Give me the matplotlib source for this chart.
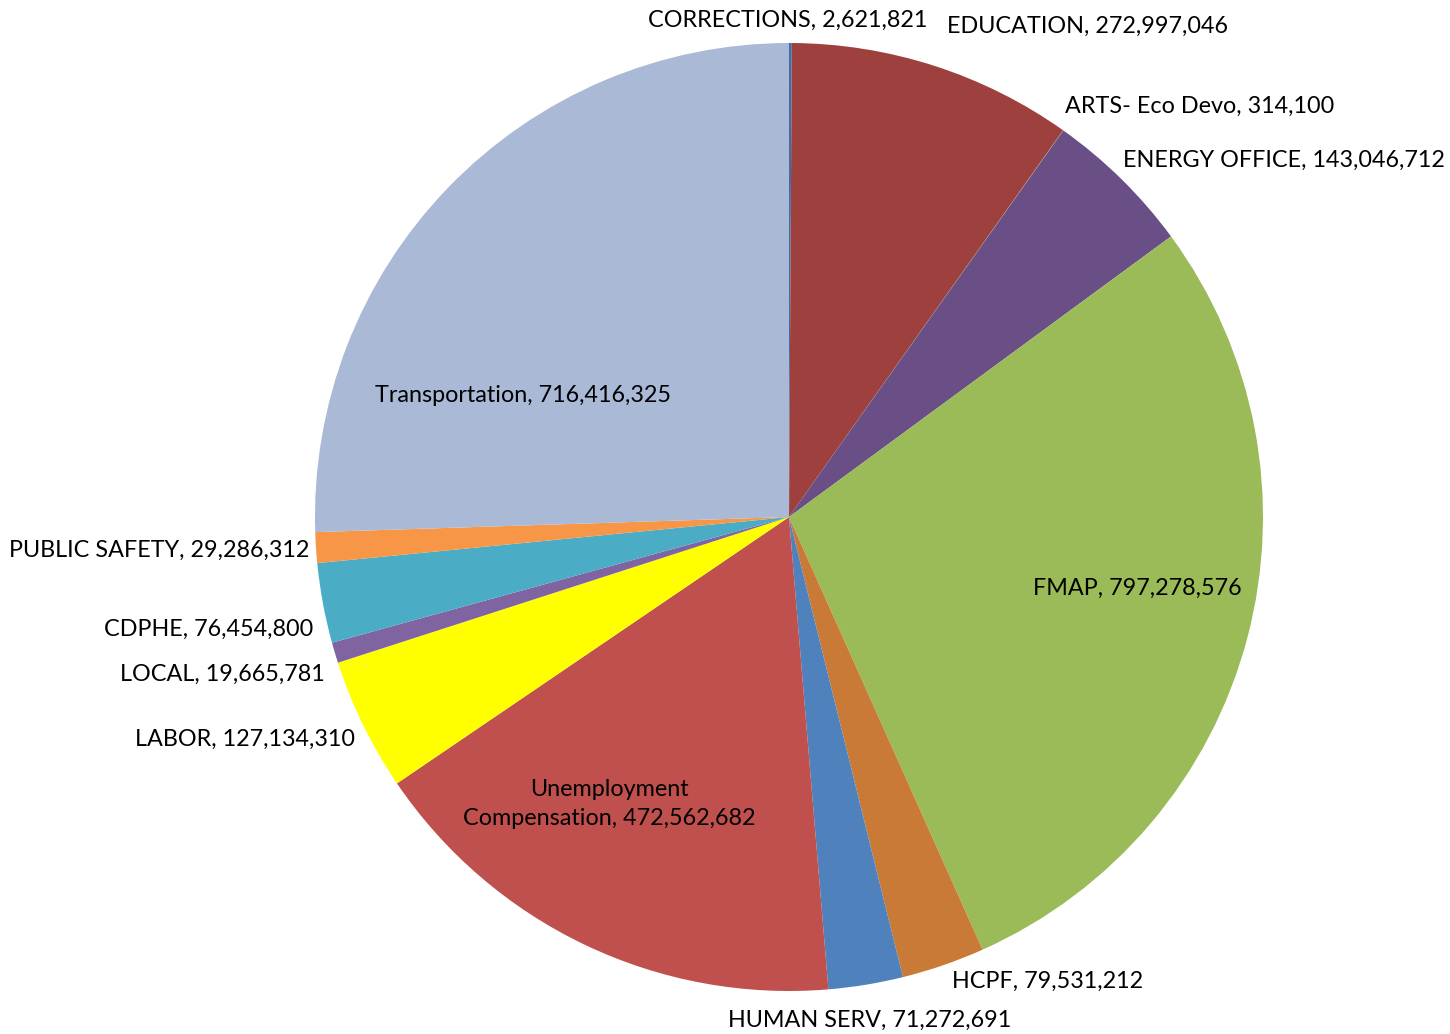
import matplotlib
matplotlib.use('Agg')
import matplotlib.pyplot as plt

# slices, clockwise from 12 o'clock
names = ['CORRECTIONS', 'EDUCATION', 'ARTS- Eco Devo', 'ENERGY OFFICE', 'FMAP', 'HCPF',
         'HUMAN SERV', 'Unemployment\nCompensation', 'LABOR', 'LOCAL', 'CDPHE',
         'PUBLIC SAFETY', 'Transportation']
amounts = [2621821, 272997046, 314100, 143046712, 797278576, 79531212,
           71272691, 472562682, 127134310, 19665781, 76454800,
           29286312, 716416325]
colors = ['#3E6DA8', '#9E413E', '#7E9C48', '#6A4F86', '#9BBB59', '#C97A37',
          '#4F81BD', '#C0504D', '#FFFF00', '#8064A2', '#4BACC6',
          '#F79646', '#AAB9D6']

# label centres in pixel coords (x from left, y from top)
label_xy = [(788, 20), (1088, 26), (1200, 106), (1284, 160), (1137, 588), (1048, 981),
            (870, 1020), (609, 804), (245, 739), (222, 674), (209, 629),
            (159, 550), (523, 396)]

W, H = 1450, 1034
fig = plt.figure(figsize=(W / 100, H / 100), dpi=100)
ax = fig.add_axes([0, 0, 1, 1])

ax.pie(amounts, colors=colors, startangle=90, counterclock=False,
       center=(789, H - 517), radius=474,
       wedgeprops=dict(linewidth=0, antialiased=True))

for name, val, (x, y) in zip(names, amounts, label_xy):
    ax.text(x, H - y, f'{name}, {val:,}', ha='center', va='center',
            fontsize=16.8, family=['Lato', 'DejaVu Sans'], color='#000000',
            linespacing=1.45)

ax.set_xlim(0, W)
ax.set_ylim(0, H)
ax.set_aspect('equal')
ax.axis('off')

fig.savefig('out.png', dpi=100, facecolor='white')
